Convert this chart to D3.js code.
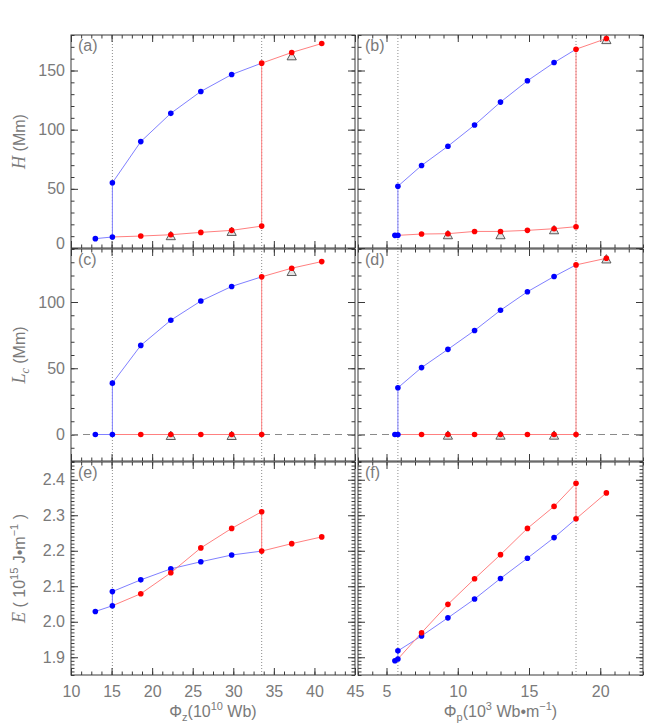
<!DOCTYPE html>
<html><head><meta charset="utf-8">
<script src="https://cdn.jsdelivr.net/npm/d3@7"></script>
<style>body{margin:0;background:#fff}</style>
</head><body>
<svg id="chart" width="664" height="725" xmlns="http://www.w3.org/2000/svg"></svg>
<script>
// ---------------- DATA ----------------
// Left column: x = Phi_z (10^10 Wb)
const zBlueLowX = [13.0, 15.1];
const zBlueUpX  = [15.1, 18.6, 22.3, 26.0, 29.8];
const zRedLowX  = [18.6, 22.3, 26.0, 29.8, 33.5];
const zRedUpX   = [33.5, 37.2, 40.9];
const zTriX     = [22.3, 29.8, 37.2];
const zTransitions = [15.1, 33.5];

// Right column: x = Phi_p (10^3 Wb m^-1)
const pBlueLowX = [5.59, 5.80];
const pBlueUpX  = [5.80, 7.46, 9.31, 11.18, 13.0, 14.89, 16.76];
const pRedLowX  = [7.46, 9.31, 11.18, 13.0, 14.89, 16.76, 18.30];
const pRedUpX   = [18.30, 20.43];
const pTriX     = [9.31, 13.0, 16.76, 20.43];
const pTransitions = [5.80, 18.30];

// (a) H vs Phi_z
const aBlueLow = [7.9, 9.3];
const aBlueUp  = [55.1, 89.9, 113.8, 132.3, 146.6];
const aRedLow  = [10.1, 11.2, 13.2, 14.9, 18.5];
const aRedUp   = [156.2, 165.2, 172.8];
const aTri     = [10.4, 14.0, 162.4];
// (b) H vs Phi_p
const bBlueLow = [10.7, 10.7];
const bBlueUp  = [52.2, 69.7, 86.0, 103.9, 123.3, 141.3, 156.7];
const bRedLow  = [11.8, 12.1, 14.0, 14.0, 14.9, 16.3, 18.0];
const bRedUp   = [168.0, 177.0];
const bTri     = [11.2, 11.2, 15.4, 176.1];
// (c) Lc vs Phi_z
const cBlueLow = [0, 0];
const cBlueUp  = [38.75, 67.25, 86.25, 100.75, 111.75];
const cRedLow  = [0, 0, 0, 0, 0];
const cRedUp   = [119.0, 125.5, 130.5];
const cTri     = [-0.75, -0.75, 123.0];
// (d) Lc vs Phi_p
const dBlueLow = [0, 0];
const dBlueUp  = [35.25, 50.5, 64.25, 78.5, 93.75, 107.75, 119.25];
const dRedLow  = [0, 0, 0, 0, 0, 0, 0];
const dRedUp   = [128.0, 133.0];
const dTri     = [-0.5, -0.5, -0.5, 132.5];
// (e) E vs Phi_z
const eBlueLow = [2.029, 2.045];
const eBlueUp  = [2.085, 2.118, 2.149, 2.169, 2.188];
const eRedLow  = [2.079, 2.138, 2.208, 2.263, 2.310];
const eRedUp   = [2.199, 2.220, 2.239];
// (f) E vs Phi_p
const fBlueLow = [1.890, 1.895];
const fBlueUp  = [1.918, 1.960, 2.011, 2.064, 2.122, 2.179, 2.237];
const fRedLow  = [1.969, 2.049, 2.121, 2.189, 2.263, 2.325, 2.390];
const fRedUp   = [2.290, 2.363];

// Tick values
const zTicks = [10, 15, 20, 25, 30, 35, 40, 45];
const pTicks = [5, 10, 15, 20];
const hTicks = [0, 50, 100, 150];
const lTicks = [0, 50, 100];
const eTicks = [1.9, 2.0, 2.1, 2.2, 2.3, 2.4];
const panelLabels = ["(a)", "(b)", "(c)", "(d)", "(e)", "(f)"];

// ---------------- SCALES ----------------
const xZ = d3.scaleLinear([10, 45], [71, 355]);
const xP = d3.scaleLinear([3, 23], [358, 643]);
const yH = d3.scaleLinear([0, 180], [248, 35]);
const yL = d3.scaleLinear([-20, 140], [461, 249]);
const yE = d3.scaleLinear([1.85, 2.45], [675, 462]);

const zMinor = d3.range(10, 45.001, 1.25);
const pMinor = d3.range(3, 23.001, 1);
const hMinor = d3.range(0, 180.001, 10);
const lMinor = d3.range(-20, 140.001, 10);
const eMinor = d3.range(0, 61).map(i => +(1.85 + i * 0.01).toFixed(2));

const svg = d3.select("#chart");
svg.append("rect").attr("width", 664).attr("height", 725).attr("fill", "#fff");

const FONT = "Liberation Sans, Arial, sans-serif";
const TXT = "#7a7a7a";
const AX = "#3a3a3a";
const BLUE = "#0000ff", RED = "#ff0000";
const BLUE_L = "#8080ff", RED_L = "#ff8080";

const zip = (xs, ys) => xs.map((x, i) => [x, ys[i]]);

function styleAxis(g) {
  g.select(".domain").remove();
  g.selectAll("line").attr("stroke", AX).attr("stroke-width", 1);
  g.selectAll("text").attr("fill", TXT).attr("font-family", FONT).attr("font-size", 16);
  g.attr("font-family", null).attr("font-size", null);
}

function drawPanel(o) {
  const {x, y, xMaj, xMin, yMaj, yMin, showX, showY} = o;
  const [x0, x1] = x.range();
  const [y0, y1] = y.range(); // y0 bottom, y1 top
  const fmtY = o.fmtY || (d => d);
  [[xMin, 3.5, false], [xMaj, 7, showX]].forEach(([vals, len, lab]) => {
    const g = svg.append("g").attr("transform", `translate(0,${y0})`)
      .call(d3.axisBottom(x).tickValues(vals).tickSizeInner(-len).tickSizeOuter(0)
        .tickPadding(11).tickFormat(lab ? (d => d) : () => ""));
    styleAxis(g);
    const g2 = svg.append("g").attr("transform", `translate(0,${y1})`)
      .call(d3.axisTop(x).tickValues(vals).tickSizeInner(-len).tickSizeOuter(0).tickFormat(() => ""));
    styleAxis(g2);
  });
  [[yMin, 3.5, false], [yMaj, 7, showY]].forEach(([vals, len, lab]) => {
    const g = svg.append("g").attr("transform", `translate(${x0},0)`)
      .call(d3.axisLeft(y).tickValues(vals).tickSizeInner(-len).tickSizeOuter(0)
        .tickPadding(6).tickFormat(lab ? fmtY : () => ""));
    styleAxis(g);
    if (lab) g.selectAll("text").filter(d => d === y.domain()[0]).attr("dy", "0.0em");
    const g2 = svg.append("g").attr("transform", `translate(${x1},0)`)
      .call(d3.axisRight(y).tickValues(vals).tickSizeInner(-len).tickSizeOuter(0).tickFormat(() => ""));
    styleAxis(g2);
  });
  svg.append("rect").attr("x", x0).attr("y", y1).attr("width", x1 - x0).attr("height", y0 - y1)
    .attr("fill", "none").attr("stroke", AX).attr("stroke-width", 1);
  svg.append("text").attr("x", x0 + 7).attr("y", y1 + 15.5)
    .attr("font-family", FONT).attr("font-size", 16).attr("fill", TXT).text(o.label);
}

function drawData(o) {
  const {x, y, bxl, bxu, rxl, rxu, bl, bu, rl, ru, tx, ty} = o;
  const blueLow = zip(bxl, bl), blueUp = zip(bxu, bu), redLow = zip(rxl, rl), redUp = zip(rxu, ru);
  const line = d3.line().x(d => x(d[0])).y(d => y(d[1]));
  const g = svg.append("g");
  if (o.zero) {
    g.append("line").attr("x1", x.range()[0]).attr("x2", x.range()[1])
      .attr("y1", y(0)).attr("y2", y(0)).attr("stroke", "#8a8a8a").attr("stroke-width", 1)
      .attr("stroke-dasharray", "7,5");
  }
  g.append("path").attr("d", line([...blueLow, ...blueUp, redUp[0]]))
    .attr("fill", "none").attr("stroke", BLUE_L).attr("stroke-width", 1);
  g.append("path").attr("d", line([blueLow[blueLow.length - 1], ...redLow, ...redUp]))
    .attr("fill", "none").attr("stroke", RED_L).attr("stroke-width", 1);
  if (tx) {
    const tri = zip(tx, ty);
    g.selectAll("path.tri").data(tri).join("path").attr("class", "tri")
      .attr("d", d => {
        const cx = x(d[0]), cy = y(d[1]);
        return `M${cx - 4.6},${cy + 4}L${cx},${cy - 4.3}L${cx + 4.6},${cy + 4}Z`;
      })
      .attr("fill", "#e4e4e4").attr("stroke", "#4a4a4a").attr("stroke-width", 0.9);
  }
  g.selectAll("circle.b").data([...blueLow, ...blueUp]).join("circle").attr("class", "b")
    .attr("cx", d => x(d[0])).attr("cy", d => y(d[1])).attr("r", 2.8).attr("fill", BLUE);
  g.selectAll("circle.r").data([...redLow, ...redUp]).join("circle").attr("class", "r")
    .attr("cx", d => x(d[0])).attr("cy", d => y(d[1])).attr("r", 2.8).attr("fill", RED);
}

// transition guide lines (behind data)
const guides = svg.append("g");
const GUIDE = "#8c8c8c";
zTransitions.forEach(v => guides.append("line").attr("x1", xZ(v)).attr("x2", xZ(v))
  .attr("y1", 35).attr("y2", 675).attr("stroke", GUIDE).attr("stroke-width", 1).attr("stroke-dasharray", "1,2"));
pTransitions.forEach(v => guides.append("line").attr("x1", xP(v)).attr("x2", xP(v))
  .attr("y1", 35).attr("y2", 675).attr("stroke", GUIDE).attr("stroke-width", 1).attr("stroke-dasharray", "1,2"));

const fmtE = d => d3.format(".1f")(d);
const panels = [
  {x: xZ, y: yH, xMaj: zTicks, xMin: zMinor, yMaj: hTicks, yMin: hMinor, showX: false, showY: true, label: panelLabels[0],
   bxl: zBlueLowX, bxu: zBlueUpX, rxl: zRedLowX, rxu: zRedUpX, bl: aBlueLow, bu: aBlueUp, rl: aRedLow, ru: aRedUp, tx: zTriX, ty: aTri},
  {x: xP, y: yH, xMaj: pTicks, xMin: pMinor, yMaj: hTicks, yMin: hMinor, showX: false, showY: false, label: panelLabels[1],
   bxl: pBlueLowX, bxu: pBlueUpX, rxl: pRedLowX, rxu: pRedUpX, bl: bBlueLow, bu: bBlueUp, rl: bRedLow, ru: bRedUp, tx: pTriX, ty: bTri},
  {x: xZ, y: yL, xMaj: zTicks, xMin: zMinor, yMaj: lTicks, yMin: lMinor, showX: false, showY: true, label: panelLabels[2], zero: true,
   bxl: zBlueLowX, bxu: zBlueUpX, rxl: zRedLowX, rxu: zRedUpX, bl: cBlueLow, bu: cBlueUp, rl: cRedLow, ru: cRedUp, tx: zTriX, ty: cTri},
  {x: xP, y: yL, xMaj: pTicks, xMin: pMinor, yMaj: lTicks, yMin: lMinor, showX: false, showY: false, label: panelLabels[3], zero: true,
   bxl: pBlueLowX, bxu: pBlueUpX, rxl: pRedLowX, rxu: pRedUpX, bl: dBlueLow, bu: dBlueUp, rl: dRedLow, ru: dRedUp, tx: pTriX, ty: dTri},
  {x: xZ, y: yE, xMaj: zTicks, xMin: zMinor, yMaj: eTicks, yMin: eMinor, showX: true, showY: true, label: panelLabels[4], fmtY: fmtE,
   bxl: zBlueLowX, bxu: zBlueUpX, rxl: zRedLowX, rxu: zRedUpX, bl: eBlueLow, bu: eBlueUp, rl: eRedLow, ru: eRedUp},
  {x: xP, y: yE, xMaj: pTicks, xMin: pMinor, yMaj: eTicks, yMin: eMinor, showX: true, showY: false, label: panelLabels[5], fmtY: fmtE,
   bxl: pBlueLowX, bxu: pBlueUpX, rxl: pRedLowX, rxu: pRedUpX, bl: fBlueLow, bu: fBlueUp, rl: fRedLow, ru: fRedUp}
];
panels.forEach(drawPanel);
panels.forEach(drawData);

// ---------------- AXIS TITLES ----------------
function yTitle(cy, build) {
  const t = svg.append("text").attr("transform", `translate(25,${cy}) rotate(-90)`)
    .attr("text-anchor", "middle").attr("font-family", FONT).attr("font-size", 16).attr("fill", TXT);
  build(t);
}
const serif = "Liberation Serif, Times New Roman, serif";
yTitle((yH.range()[0] + yH.range()[1]) / 2, t => {
  t.append("tspan").attr("font-family", serif).attr("font-style", "italic").attr("font-size", 18).text("H");
  t.append("tspan").text("  (Mm)");
});
yTitle((yL.range()[0] + yL.range()[1]) / 2, t => {
  t.append("tspan").attr("font-family", serif).attr("font-style", "italic").attr("font-size", 18).text("L");
  t.append("tspan").attr("font-family", serif).attr("font-style", "italic").attr("font-size", 12).attr("dy", 4).text("c");
  t.append("tspan").attr("dy", -4).text("  (Mm)");
});
yTitle((yE.range()[0] + yE.range()[1]) / 2, t => {
  t.append("tspan").attr("font-family", serif).attr("font-style", "italic").attr("font-size", 18).text("E");
  t.append("tspan").text("  ( 10");
  t.append("tspan").attr("font-size", 11).attr("dy", -7).text("15");
  t.append("tspan").attr("dy", 7).text(" J\u2022m");
  t.append("tspan").attr("font-size", 11).attr("dy", -7).text("\u22121");
  t.append("tspan").attr("dy", 7).text(" )");
});

function xTitle(cx, sub, sup, unit) {
  const t = svg.append("text").attr("x", cx).attr("y", 717).attr("text-anchor", "middle")
    .attr("font-family", FONT).attr("font-size", 16).attr("fill", TXT);
  t.append("tspan").text("\u03A6");
  t.append("tspan").attr("font-size", 11).attr("dy", 4).text(sub);
  t.append("tspan").attr("dy", -4).text("(10");
  t.append("tspan").attr("font-size", 11).attr("dy", -7).text(sup);
  t.append("tspan").attr("dy", 7).text(unit);
  return t;
}
xTitle((xZ.range()[0] + xZ.range()[1]) / 2, "z", "10", " Wb)");
const tp = xTitle((xP.range()[0] + xP.range()[1]) / 2, "p", "3", " Wb\u2022m");
tp.append("tspan").attr("font-size", 11).attr("dy", -7).text("\u22121");
tp.append("tspan").attr("dy", 7).text(")");
</script>
</body></html>
